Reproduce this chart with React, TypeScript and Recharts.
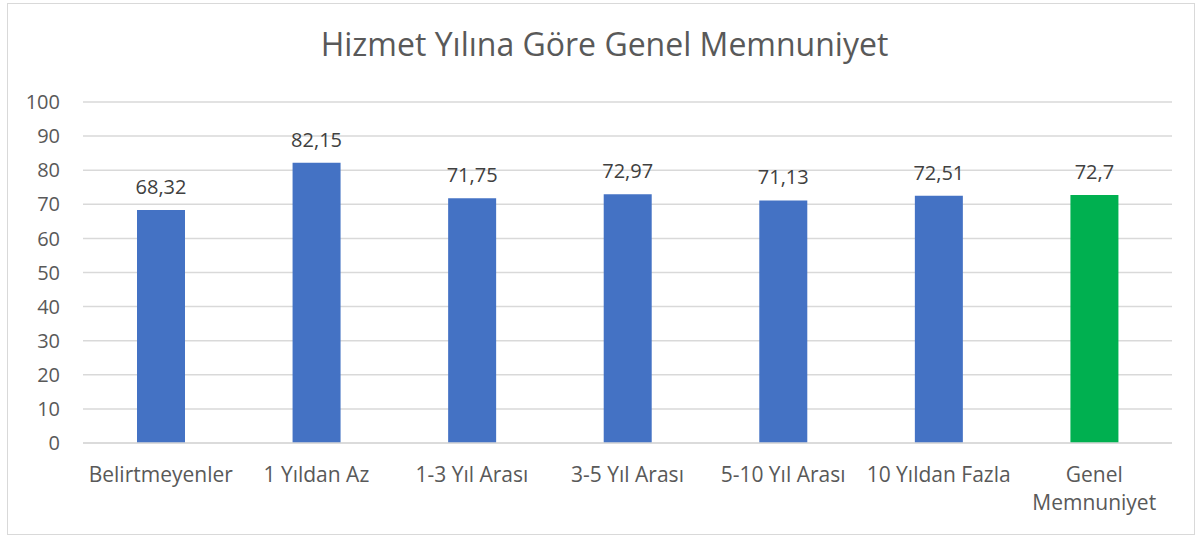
import { Bar, BarChart, CartesianGrid, Cell, LabelList, XAxis, YAxis } from 'recharts';

const categories = [
  'Belirtmeyenler',
  '1 Yıldan Az',
  '1-3 Yıl Arası',
  '3-5 Yıl Arası',
  '5-10 Yıl Arası',
  '10 Yıldan Fazla',
  'Genel Memnuniyet',
];
const satisfaction = [68.32, 82.15, 71.75, 72.97, 71.13, 72.51, 72.7];
const yTicks = [0, 10, 20, 30, 40, 50, 60, 70, 80, 90, 100];

const rows = categories.map((name, i) => ({ name, value: satisfaction[i] }));

const FONT = '"Open Sans", sans-serif';
const INK = '#595959';

function CategoryTick({ x, y, payload }: any) {
  const label: string = payload.value;
  const lines = label.length > 15 ? label.split(' ') : [label];
  return (
    <text x={x} y={y} textAnchor="middle" fill={INK} fontSize={21} fontFamily={FONT}>
      {lines.map((line, i) => (
        <tspan key={line} x={x} dy={i === 0 ? 31 : 28}>
          {line}
        </tspan>
      ))}
    </text>
  );
}

export default function App() {
  return (
    <div
      style={{
        position: 'absolute',
        left: 7,
        top: 3,
        width: 1188,
        height: 532,
        boxSizing: 'border-box',
        border: '1px solid #d9d9d9',
        background: '#fff',
      }}
    >
      <div
        style={{
          position: 'absolute',
          top: 24,
          left: 7,
          right: 0,
          textAlign: 'center',
          fontFamily: FONT,
          fontSize: 32,
          lineHeight: '32px',
          color: INK,
        }}
      >
        Hizmet Yılına Göre Genel Memnuniyet
      </div>
      <BarChart
        width={1186}
        height={530}
        data={rows}
        margin={{ top: 98, right: 22, left: 0, bottom: 0 }}
      >
        <CartesianGrid vertical={false} stroke="#d9d9d9" strokeWidth={1.5} />
        <XAxis
          dataKey="name"
          height={91}
          interval={0}
          axisLine={{ stroke: '#d9d9d9', strokeWidth: 1.5 }}
          tickLine={false}
          tick={<CategoryTick />}
        />
        <YAxis
          width={75}
          domain={[0, 100]}
          ticks={yTicks}
          axisLine={false}
          tickLine={false}
          tickSize={6}
          tickMargin={17}
          tick={{ fill: INK, fontSize: 20, fontFamily: FONT }}
        />
        <Bar dataKey="value" barSize={48} isAnimationActive={false}>
          {rows.map((row, i) => (
            <Cell key={row.name} fill={i === rows.length - 1 ? '#00B050' : '#4472C4'} />
          ))}
          <LabelList
            dataKey="value"
            position="top"
            offset={16}
            fill="#404040"
            fontSize={20}
            fontFamily={FONT}
            formatter={(v: any) => String(v).replace('.', ',')}
          />
        </Bar>
      </BarChart>
    </div>
  );
}
